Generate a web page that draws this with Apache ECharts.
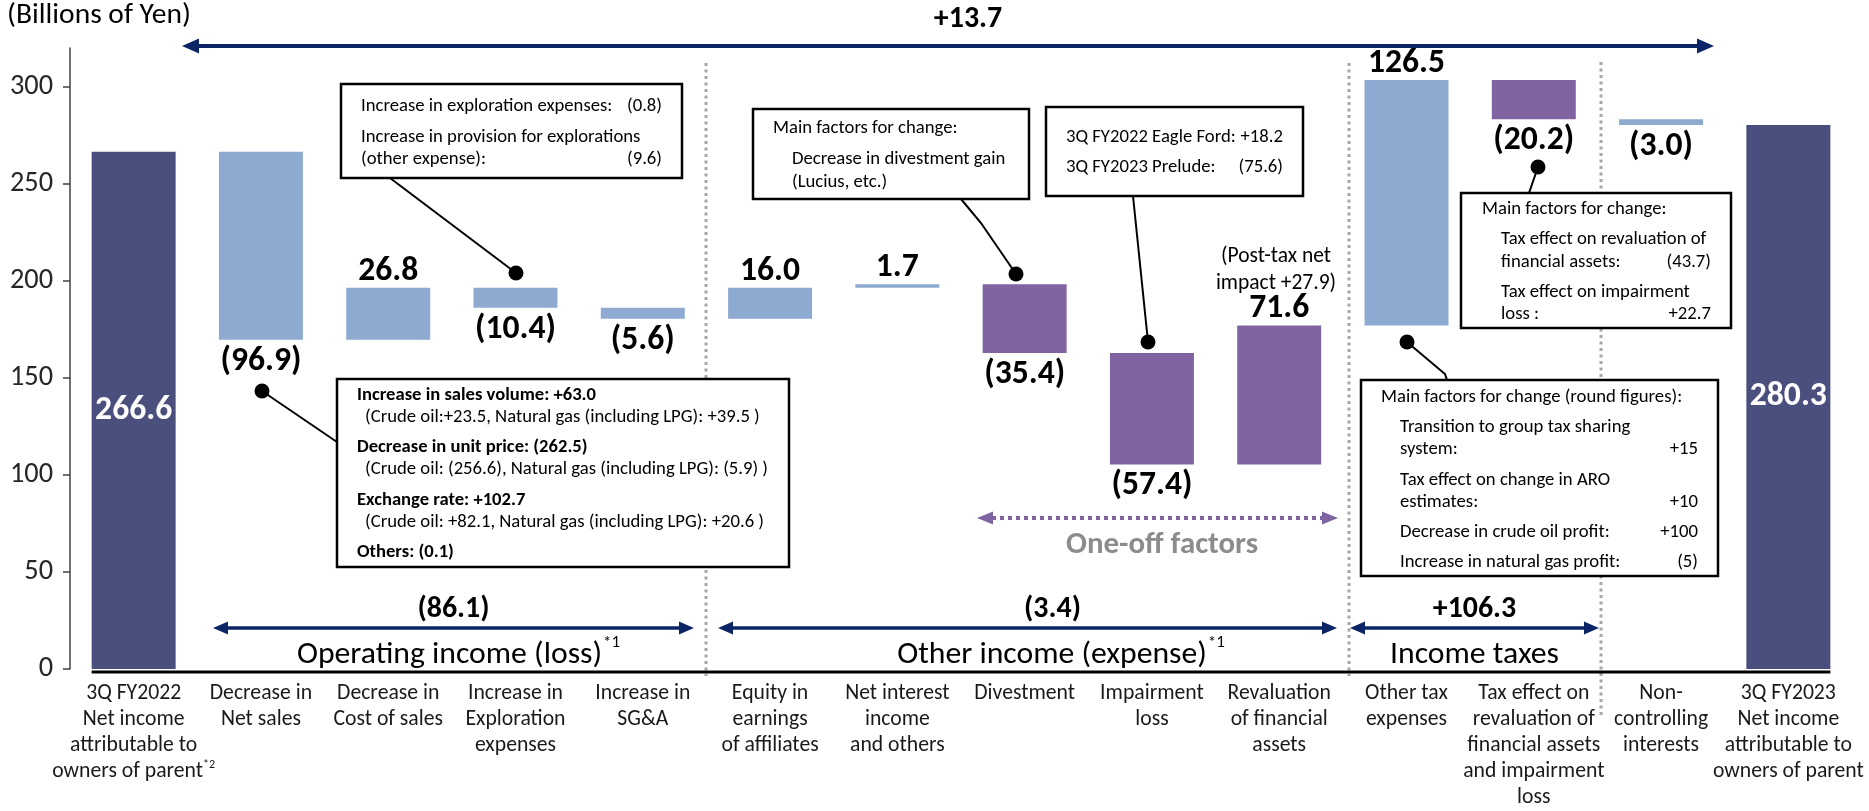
<!DOCTYPE html>
<html><head><meta charset="utf-8">
<script src="https://cdn.jsdelivr.net/npm/echarts@6/dist/echarts.min.js"></script>
<style>html,body{margin:0;padding:0;background:#fff}#c{width:1869px;height:811px}</style>
</head><body><div id="c"></div><script>
// ---------------- data ----------------
const categories = [
  '3Q FY2022\nNet income\nattributable to\nowners of parent{s|*2}',
  'Decrease in\nNet sales',
  'Decrease in\nCost of sales',
  'Increase in\nExploration\nexpenses',
  'Increase in\nSG&A',
  'Equity in\nearnings\nof affiliates',
  'Net interest\nincome\nand others',
  'Divestment',
  'Impairment\nloss',
  'Revaluation\nof financial\nassets',
  'Other tax\nexpenses',
  'Tax effect on\nrevaluation of\nfinancial assets\nand impairment\nloss',
  'Non-\ncontrolling\ninterests',
  '3Q FY2023\nNet income\nattributable to\nowners of parent'
];
const startValue = 266.6;
const changes = [-96.9, 26.8, -10.4, -5.6, 16.0, 1.7, -35.4, -57.4, 71.6, 126.5, -20.2, -3.0];
const endValue = 280.3;
const oneOffFlags = [false, false, false, false, false, false, true, true, true, false, true, false];
const yTicks = [0, 50, 100, 150, 200, 250, 300];
const totalChange = '+13.7';
const sectionTotals = ['(86.1)', '(3.4)', '+106.3'];
const sectionNames = ['Operating income (loss)', 'Other income (expense)', 'Income taxes'];

// ---------------- fonts ----------------
function hasFont(f){
  const c=document.createElement('canvas').getContext('2d');
  const s='Decrease in Net sales 0123 WMil';
  c.font='40px monospace'; const a=c.measureText(s).width;
  c.font='40px "'+f+'", monospace'; const b=c.measureText(s).width;
  return a!==b;
}
const FF = hasFont('Carlito') ? 'Carlito, Lato, sans-serif' : 'Lato, sans-serif';
const mctx = document.createElement('canvas').getContext('2d');
function tw(text, font){ mctx.font = font; return mctx.measureText(text).width; }
function fit(text, target, weight){ return Math.round(1000*target/tw(text, (weight?weight+' ':'')+'100px '+FF))/10; }

const S_Y    = fit('300', 43);
const S_CAT  = fit('Tax effect on', 111);
const S_VAL  = Math.round(fit('(96.9)', 87, 'bold') * 0.93 * 10) / 10;
const S_BOX  = fit('Increase in exploration expenses:', 251);
const S_BOXB = fit('Increase in sales volume: +63.0', 239, 'bold');
const S_SECN = fit('Income taxes', 169);
const S_SECV = Math.round(fit('+106.3', 88, 'bold') * 0.95 * 10) / 10;
const S_UNIT = fit('(Billions of Yen)', 184);
const S_ONE  = fit('One-off factors', 192, 'bold');
const S_POST = fit('(Post-tax net', 110);
const LH_VAL = Math.round(S_VAL * 0.8);

// ---------------- colors ----------------
const C_TOTAL = '#4b4f7d', C_NORM = '#8eaad1', C_ONE = '#8064a2', NAVY = '#0b2466';

// ---------------- build waterfall ----------------
const baseData = [0], visData = [];
visData.push({value:startValue, itemStyle:{color:C_TOTAL},
  label:{show:true, position:'inside', color:'#fff', formatter:startValue.toFixed(1)}});
let run = startValue;
changes.forEach((d,i)=>{
  const nxt = run + d;
  baseData.push(Math.min(run, nxt));
  const neg = d < 0;
  visData.push({value:Math.abs(d), itemStyle:{color: oneOffFlags[i] ? C_ONE : C_NORM},
    label:{show:true, position: neg ? 'bottom' : 'top', distance: neg ? 8 : 3, color:'#000',
      formatter: neg ? '(' + Math.abs(d).toFixed(1) + ')' : d.toFixed(1)}});
  run = nxt;
});
baseData.push(0);
visData.push({value:endValue, itemStyle:{color:C_TOTAL},
  label:{show:true, position:'inside', color:'#fff', formatter:endValue.toFixed(1)}});

const chart = echarts.init(document.getElementById('c'), null, {renderer:'canvas'});
chart.setOption({
  animation:false,
  backgroundColor:'#fff',
  grid:{left:70, right:17, top:48, bottom:135},
  xAxis:{type:'category', data:categories,
    axisLine:{show:false}, axisTick:{show:false},
    axisLabel:{interval:0, fontFamily:FF, fontSize:S_CAT, lineHeight:26, color:'#1a1a1a', margin:12,
      rich:{s:{fontFamily:FF, fontSize:12, verticalAlign:'top', lineHeight:26, padding:[0,0,8,0]}}}},
  yAxis:{type:'value', min:0, max:320,
    splitLine:{show:false},
    axisLine:{show:true, lineStyle:{color:'#404040', width:1.5}},
    axisTick:{show:true, length:7, customValues:yTicks, lineStyle:{color:'#404040', width:1.5}},
    axisLabel:{customValues:yTicks, fontFamily:FF, fontSize:S_Y, color:'#262626', margin:17}},
  series:[
    {type:'bar', stack:'w', data:baseData, itemStyle:{color:'transparent'}, barWidth:84, silent:true},
    {type:'bar', stack:'w', data:visData, barWidth:84,
      label:{fontFamily:FF, fontWeight:'bold', fontSize:S_VAL, lineHeight:LH_VAL}}
  ]
});

// ---------------- annotations ----------------
const G = [];
const Z = 100;
const boxFont = S_BOX+'px '+FF;
function line(x1,y1,x2,y2,color,w,dash,z){ G.push({type:'line', shape:{x1,y1,x2,y2}, style:{stroke:color,lineWidth:w,lineDash:dash||null}, z:z||Z}); }
function poly(points,color,w,z){ G.push({type:'polyline', shape:{points}, style:{stroke:color,lineWidth:w,fill:null}, z:z||Z}); }
function tri(points,color,z){ G.push({type:'polygon', shape:{points}, style:{fill:color}, z:z||Z}); }
function dot(cx,cy){ G.push({type:'circle', shape:{cx,cy,r:7.5}, style:{fill:'#000'}, z:Z+2}); }
function box(x1,y1,x2,y2){ G.push({type:'rect', shape:{x:x1,y:y1,width:x2-x1,height:y2-y1}, style:{fill:'#fff',stroke:'#000',lineWidth:2.5}, z:Z}); }
function txt(s,x,y,font,color,align,z){ G.push({type:'text', x, y, style:{text:s, font, fill:color||'#000', align:align||'left', verticalAlign:'middle'}, z:z||Z+1}); }
function harrow(x1,x2,y,color,w,L,H,dash){
  line(x1+L-1,y,x2-L+1,y,color,w,dash);
  tri([[x1,y],[x1+L,y-H],[x1+L,y+H]],color);
  tri([[x2,y],[x2-L,y-H],[x2-L,y+H]],color);
}

const p0 = chart.convertToPixel({gridIndex:0},[0,0]);
const pN = chart.convertToPixel({gridIndex:0},[categories.length-1,0]);
// x-axis baseline spanning the bars
line(p0[0]-42, p0[1]+3, pN[0]+42, p0[1]+3, '#000', 3, null, 20);

// dotted section separators
const SEP = '#a6a6a6';
line(706, 63, 706, 676, SEP, 3, [3,3.5], 10);
line(1349, 63, 1349, 676, SEP, 3, [3,3.5], 10);
line(1601, 62, 1601, 716, SEP, 3, [3,3.5], 10);

// y unit
txt('(Billions of Yen)', 7, 16, S_UNIT+'px '+FF, '#000');

// total change arrow
harrow(182, 1714, 46, NAVY, 4, 17, 7.5);
txt(totalChange, 968, 20, 'bold '+S_SECV+'px '+FF, '#000', 'center');

// section arrows
const secX = [[213,694],[718,1337],[1350,1599]];
const secF = 'bold '+S_SECV+'px '+FF;
const nameF = S_SECN+'px '+FF;
secX.forEach((s,i)=>{
  harrow(s[0], s[1], 628, NAVY, 3.5, 15, 6.5);
  const cx = i===1 ? 1052 : (s[0]+s[1])/2 + (i===0?-4:0);
  txt(sectionTotals[i], (s[0]+s[1])/2 + (i===1?25:0), 610, secF, '#000', 'center');
  txt(sectionNames[i], cx, 655, nameF, '#000', 'center');
  if (i < 2) {
    const w = tw(sectionNames[i], nameF);
    txt('*1', cx + w/2 + 1, 643, Math.round(S_SECN*0.55)+'px '+FF, '#000', 'left');
  }
});

// one-off factors
harrow(977, 1338, 518, C_ONE, 4, 16, 6.5, [4,4]);
txt('One-off factors', 1162, 545, 'bold '+S_ONE+'px '+FF, '#8c8c8c', 'center');

// post-tax note
txt('(Post-tax net', 1276, 257, S_POST+'px '+FF, '#000', 'center');
txt('impact +27.9)', 1276, 284, S_POST+'px '+FF, '#000', 'center');

// Box A: exploration
poly([[390,178],[516,273]], '#000', 2); dot(516,273);
box(341,84,682,178);
txt('Increase in exploration expenses:', 361, 106, boxFont);
txt('(0.8)', 662, 106, boxFont, '#000', 'right');
txt('Increase in provision for explorations', 361, 137, boxFont);
txt('(other expense):', 361, 159, boxFont);
txt('(9.6)', 662, 159, boxFont, '#000', 'right');

// Box B: divestment
poly([[961,199],[981,223],[1016,274]], '#000', 2); dot(1016,274);
box(753,109,1029,199);
txt('Main factors for change:', 773, 128, boxFont);
txt('Decrease in divestment gain', 792, 159, boxFont);
txt('(Lucius, etc.)', 792, 182, boxFont);

// Box C: impairment
poly([[1133,196],[1148,342]], '#000', 2); dot(1148,342);
box(1046,107,1303,196);
txt('3Q FY2022 Eagle Ford:', 1066, 137, boxFont);
txt('+18.2', 1283, 137, boxFont, '#000', 'right');
txt('3Q FY2023 Prelude:', 1066, 167, boxFont);
txt('(75.6)', 1283, 167, boxFont, '#000', 'right');

// Box D: tax effect
poly([[1529,193],[1538,167]], '#000', 2); dot(1538,167);
box(1461,193,1731,328);
txt('Main factors for change:', 1482, 209, boxFont);
txt('Tax effect on revaluation of', 1501, 239, boxFont);
txt('financial assets:', 1501, 262, boxFont);
txt('(43.7)', 1711, 262, boxFont, '#000', 'right');
txt('Tax effect on impairment', 1501, 292, boxFont);
txt('loss :', 1501, 314, boxFont);
txt('+22.7', 1711, 314, boxFont, '#000', 'right');

// Box E: other tax expenses
poly([[1407,342],[1445,374],[1447,380]], '#000', 2); dot(1407,342);
box(1361,380,1718,576);
txt('Main factors for change (round figures):', 1381, 397, boxFont);
txt('Transition to group tax sharing', 1400, 427, boxFont);
txt('system:', 1400, 449, boxFont);
txt('+15', 1698, 449, boxFont, '#000', 'right');
txt('Tax effect on change in ARO', 1400, 480, boxFont);
txt('estimates:', 1400, 502, boxFont);
txt('+10', 1698, 502, boxFont, '#000', 'right');
txt('Decrease in crude oil profit:', 1400, 532, boxFont);
txt('+100', 1698, 532, boxFont, '#000', 'right');
txt('Increase in natural gas profit:', 1400, 562, boxFont);
txt('(5)', 1698, 562, boxFont, '#000', 'right');

// Box F: net sales
poly([[262,391],[337,442]], '#000', 2); dot(262,391);
box(337,379,789,567);
const bF = 'bold '+S_BOXB+'px '+FF;
txt('Increase in sales volume: +63.0', 357, 395, bF);
txt('(Crude oil:+23.5, Natural gas (including LPG): +39.5 )', 365, 417, boxFont);
txt('Decrease in unit price: (262.5)', 357, 447, bF);
txt('(Crude oil: (256.6), Natural gas (including LPG): (5.9) )', 365, 469, boxFont);
txt('Exchange rate: +102.7', 357, 500, bF);
txt('(Crude oil: +82.1, Natural gas (including LPG): +20.6 )', 365, 522, boxFont);
txt('Others: (0.1)', 357, 552, bF);

chart.setOption({graphic:{elements:G}});
</script></body></html>
